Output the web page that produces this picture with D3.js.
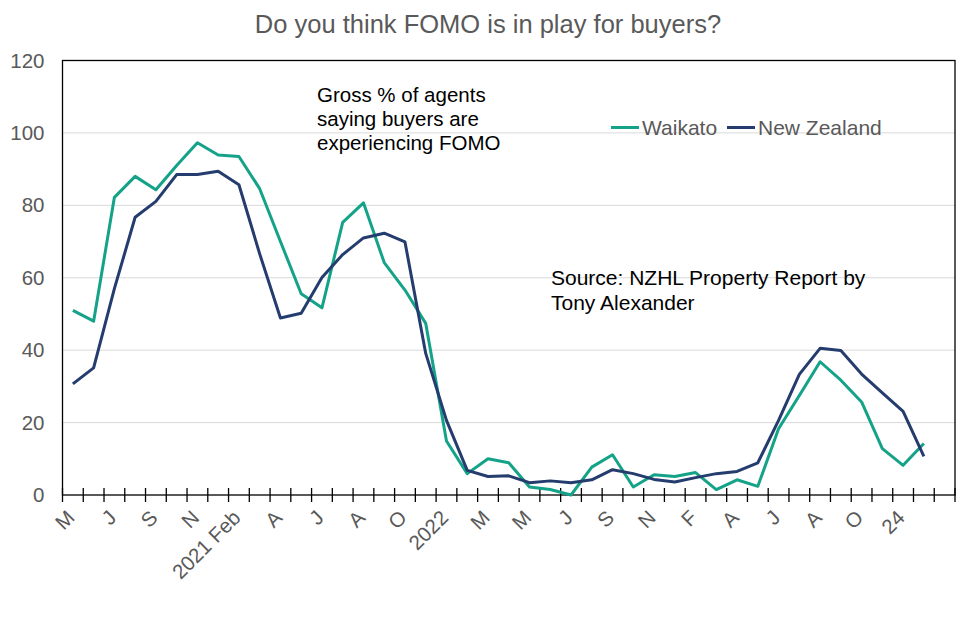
<!DOCTYPE html>
<html>
<head>
<meta charset="utf-8">
<script src="https://cdn.jsdelivr.net/npm/d3@7"></script>
<style>
  body { margin: 0; background: #fff; }
  svg text { font-family: Arial, "Liberation Sans", sans-serif; }
</style>
</head>
<body>
<script>
// 43 slots on the category axis, labelled every second one
const xLabels = [
  "M", "", "J", "", "S", "", "N", "", "2021 Feb", "", "A", "", "J", "", "A", "", "O", "", "2022", "",
  "M", "", "M", "", "J", "", "S", "", "N", "", "F", "", "A", "", "J", "", "A", "", "O", "", "24", "", ""
];

const waikato = [
  51, 48, 82.2, 88, 84.3, 91, 97.3, 93.9, 93.5, 84.6,
  70, 55.6, 51.7, 75.3, 80.7, 64.2, 56.6, 47.4, 14.9, 5.9,
  10, 8.9, 2.2, 1.5, 0, 7.7, 11.1, 2.2, 5.6, 5.1,
  6.2, 1.5, 4.2, 2.4, 18.3, 27.5, 36.8, 31.7, 25.7, 12.8,
  8.2, 14.2
];

const newZealand = [
  30.7, 35.1, 57, 76.7, 81.1, 88.5, 88.5, 89.4, 85.7, 66.6,
  48.9, 50.2, 60.1, 66.4, 71, 72.3, 69.9, 39.1, 20.6, 6.8,
  5.1, 5.3, 3.4, 3.9, 3.4, 4.2, 7, 5.9, 4.3, 3.6,
  4.8, 5.9, 6.5, 8.9, 20.6, 33.3, 40.5, 39.9, 33.4, 28.2,
  23.1, 10.7
];

const yTicks = [0, 20, 40, 60, 80, 100, 120];

const series = [
  { name: "Waikato", values: waikato, color: "#14a388" },
  { name: "New Zealand", values: newZealand, color: "#243c6e" }
];

const width = 976, height = 637;
const margin = { top: 60.5, right: 21, bottom: 142, left: 62.5 };
const iw = width - margin.left - margin.right;
const ih = height - margin.top - margin.bottom;

const svg = d3.select("body").append("svg")
  .attr("width", width)
  .attr("height", height);

svg.append("text")
  .attr("x", 488)
  .attr("y", 33)
  .attr("text-anchor", "middle")
  .attr("fill", "#595959")
  .style("font-size", "25.5px")
  .text("Do you think FOMO is in play for buyers?");

const g = svg.append("g")
  .attr("transform", `translate(${margin.left},${margin.top})`);

const x = d3.scaleBand()
  .domain(d3.range(xLabels.length))
  .range([0, iw])
  .padding(0);

const y = d3.scaleLinear()
  .domain([0, 120])
  .range([ih, 0]);

// gridlines
g.append("g")
  .selectAll("line")
  .data(yTicks.filter(d => d > 0 && d < 120))
  .join("line")
  .attr("x1", 0)
  .attr("x2", iw)
  .attr("y1", d => y(d))
  .attr("y2", d => y(d))
  .attr("stroke", "#d9d9d9")
  .attr("stroke-width", 1);

// y axis labels
const yAxis = g.append("g")
  .call(d3.axisLeft(y).tickValues(yTicks).tickSize(0).tickPadding(18));
yAxis.select(".domain").remove();
yAxis.selectAll("text")
  .attr("fill", "#595959")
  .style("font-size", "20.5px");

// x axis labels
const xAxis = g.append("g")
  .attr("transform", `translate(0,${ih})`)
  .call(d3.axisBottom(x).tickFormat(i => xLabels[i]).tickSize(0));
xAxis.select(".domain").remove();
xAxis.selectAll("text")
  .attr("fill", "#595959")
  .style("font-size", "20.5px")
  .attr("text-anchor", "end")
  .attr("dy", null)
  .attr("y", 0)
  .attr("transform", "translate(3,24) rotate(-45)");

// cross tick marks at category boundaries
const bounds = d3.range(xLabels.length + 1).map(i => i < xLabels.length ? x(i) : iw);
g.append("g")
  .selectAll("line")
  .data(bounds)
  .join("line")
  .attr("x1", d => d)
  .attr("x2", d => d)
  .attr("y1", ih - 7)
  .attr("y2", ih + 7)
  .attr("stroke", "#000")
  .attr("stroke-width", 1.3);

// plot frame
g.append("rect")
  .attr("x", 0)
  .attr("y", 0)
  .attr("width", iw)
  .attr("height", ih)
  .attr("fill", "none")
  .attr("stroke", "#000")
  .attr("stroke-width", 1.3);

// lines
const line = d3.line()
  .x((d, i) => x(i) + x.bandwidth() / 2)
  .y(d => y(d));

g.selectAll(".series")
  .data(series)
  .join("path")
  .attr("class", "series")
  .attr("fill", "none")
  .attr("stroke", d => d.color)
  .attr("stroke-width", 3)
  .attr("stroke-linejoin", "round")
  .attr("d", d => line(d.values));

// legend
const legend = svg.append("g");
const legendItems = [
  { s: series[0], x0: 611 },
  { s: series[1], x0: 727 }
];
legendItems.forEach(({ s, x0 }) => {
  legend.append("line")
    .attr("x1", x0).attr("x2", x0 + 28)
    .attr("y1", 127.5).attr("y2", 127.5)
    .attr("stroke", s.color)
    .attr("stroke-width", 3);
  legend.append("text")
    .attr("x", x0 + 31)
    .attr("y", 134.5)
    .attr("fill", "#595959")
    .style("font-size", "21px")
    .text(s.name);
});

// annotations
const note = svg.append("text")
  .attr("fill", "#000")
  .style("font-size", "20.5px");
["Gross % of agents", "saying buyers are", "experiencing FOMO"].forEach((t, i) => {
  note.append("tspan").attr("x", 317).attr("y", 102 + i * 24).text(t);
});

const source = svg.append("text")
  .attr("fill", "#000")
  .style("font-size", "21px");
["Source: NZHL Property Report by", "Tony Alexander"].forEach((t, i) => {
  source.append("tspan").attr("x", 551).attr("y", 285 + i * 24.5).text(t);
});
</script>
</body>
</html>
